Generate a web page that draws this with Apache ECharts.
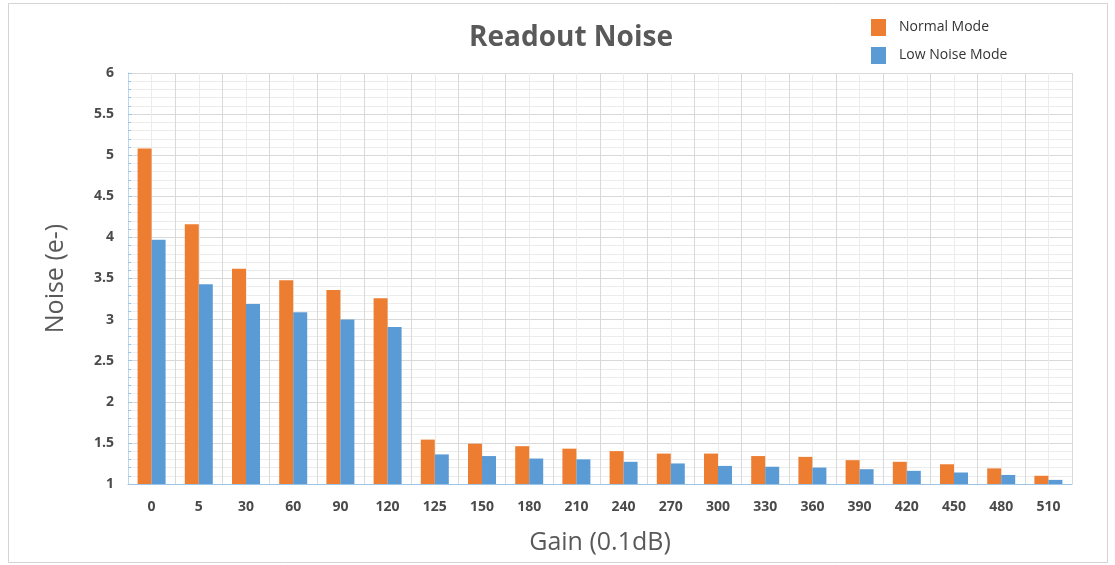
<!DOCTYPE html>
<html>
<head>
<meta charset="utf-8">
<script src="https://cdn.jsdelivr.net/npm/echarts@6/dist/echarts.min.js"></script>
<style>html,body{margin:0;padding:0;background:#fff;}#c{width:1115px;height:565px;}</style>
</head>
<body>
<div id="c"></div>
<script>
const categories = ['0','5','30','60','90','120','125','150','180','210','240','270','300','330','360','390','420','450','480','510'];
const normalMode = [5.08,4.16,3.62,3.48,3.36,3.26,1.54,1.49,1.46,1.43,1.40,1.37,1.37,1.34,1.33,1.29,1.27,1.24,1.19,1.10];
const lowNoiseMode = [3.97,3.43,3.19,3.09,3.00,2.91,1.36,1.34,1.31,1.30,1.27,1.25,1.22,1.21,1.20,1.18,1.16,1.14,1.11,1.05];
const yTicks = {min:1, max:6, interval:0.5};

const chart = echarts.init(document.getElementById('c'));
const font = '"Open Sans", "Noto Sans", sans-serif';
chart.setOption({
  backgroundColor:'#fff',
  animation:false,
  graphic:[{type:'rect',shape:{x:8.5,y:3.5,width:1099,height:559},style:{fill:'none',stroke:'#d4d4d4',lineWidth:1},silent:true}],
  title:{text:'Readout Noise',left:566,top:19,textAlign:'center',textStyle:{fontFamily:font,fontWeight:'bold',fontSize:28,color:'#595959'}},
  legend:{orient:'vertical',left:866,top:14,itemWidth:15,itemHeight:17,itemGap:11,icon:'rect',
    textStyle:{fontFamily:font,fontSize:14,color:'#333',padding:[0,0,0,8]},data:['Normal Mode','Low Noise Mode']},
  grid:{left:128,right:43,top:73,bottom:81,containLabel:false},
  xAxis:[{type:'category',data:categories,
    axisLine:{lineStyle:{color:'#9dc3e6',width:1}},axisTick:{show:false},
    axisLabel:{fontFamily:font,fontWeight:'bold',fontSize:14,color:'#4a4a4a',margin:16},
    splitLine:{show:false},
    name:'Gain (0.1dB)',nameLocation:'middle',nameGap:46,
    nameTextStyle:{fontFamily:font,fontSize:25,color:'#595959'}},
   {type:'value',min:0,max:20,interval:1,show:true,position:'top',
    axisLine:{show:false},axisTick:{show:false},axisLabel:{show:false},
    splitLine:{show:true,lineStyle:{color:'#d9d9d9'}},
    minorTick:{show:false,splitNumber:2},
    minorSplitLine:{show:true,lineStyle:{color:'#ececec'}}}],
  yAxis:{type:'value',min:yTicks.min,max:yTicks.max,interval:yTicks.interval,
    axisLine:{show:true,lineStyle:{color:'#bdd7ee'}},
    axisTick:{show:true,length:4,inside:true,lineStyle:{color:'#9dc3e6'}},
    minorTick:{show:true,splitNumber:5,length:3,lineStyle:{color:'#9dc3e6'}},
    axisLabel:{fontFamily:font,fontWeight:'bold',fontSize:14,color:'#4a4a4a',margin:14},
    splitLine:{show:true,lineStyle:{color:'#d9d9d9'}},
    minorSplitLine:{show:true,lineStyle:{color:'#ececec'}},
    name:'Noise (e-)',nameLocation:'middle',nameGap:60,nameRotate:90,
    nameTextStyle:{fontFamily:font,fontSize:25,color:'#595959'}},
  series:[
    {name:'Normal Mode',type:'bar',data:normalMode,barWidth:14,barGap:'0%',itemStyle:{color:'#ED7D31'},xAxisIndex:0},
    {name:'Low Noise Mode',type:'bar',data:lowNoiseMode,barWidth:14,barGap:'0%',itemStyle:{color:'#5B9BD5'},xAxisIndex:0}
  ]
});
</script>
</body>
</html>
